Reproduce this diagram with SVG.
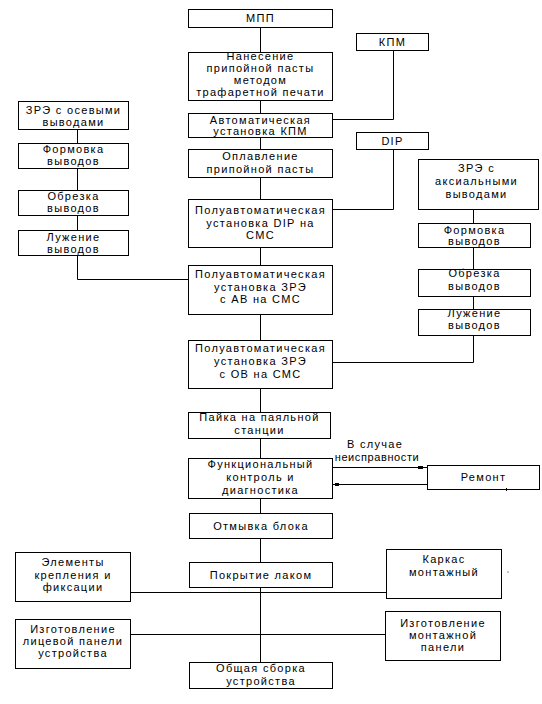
<svg xmlns="http://www.w3.org/2000/svg" width="542" height="704" viewBox="0 0 542 704">
<style>
rect.b{fill:#fff;stroke:#000;stroke-width:1}
.c line,.c polyline{stroke:#000;stroke-width:1;fill:none}
text{font-family:"Liberation Sans",Arial,sans-serif;font-size:11px;letter-spacing:1.3px;fill:#000;text-anchor:middle}
</style>
<rect width="542" height="704" fill="#fff"/>
<g class="c" id="connectors">
<line x1="260.5" y1="27" x2="260.5" y2="662"/>
<polyline points="393.5,50 393.5,119.5 332,119.5"/>
<polyline points="393.5,149 393.5,209.5 332,209.5"/>
<line x1="77.5" y1="129" x2="77.5" y2="143"/>
<line x1="77.5" y1="168" x2="77.5" y2="190"/>
<line x1="77.5" y1="215" x2="77.5" y2="230"/>
<polyline points="77.5,255 77.5,279.5 188,279.5"/>
<line x1="473.5" y1="209" x2="473.5" y2="223"/>
<line x1="473.5" y1="247" x2="473.5" y2="269"/>
<line x1="473.5" y1="296" x2="473.5" y2="309"/>
<polyline points="473.5,335 473.5,362.5 332,362.5"/>
<line x1="332" y1="467.5" x2="427" y2="467.5"/>
<line x1="332" y1="484.5" x2="427" y2="484.5"/>
<rect x="418" y="466" width="5" height="3" fill="#000" stroke="none"/>
<rect x="335" y="483" width="4" height="3" fill="#000" stroke="none"/>
<line x1="130" y1="592.5" x2="386" y2="592.5"/>
<line x1="130" y1="634.5" x2="385" y2="634.5"/>
</g>
<g id="n_mpp"><rect class="b" x="188.5" y="9.5" width="144" height="18"/><text x="260.5" y="22">МПП</text></g>
<g id="n_nanesenie"><rect class="b" x="188.5" y="52.5" width="144" height="48"/><text x="260.5" y="60">Нанесение</text><text x="260.5" y="72">припойной пасты</text><text x="260.5" y="84">методом</text><text x="260.5" y="96">трафаретной печати</text></g>
<g id="n_kpm"><rect class="b" x="356.5" y="33.5" width="72" height="17"/><text x="392.5" y="46">КПМ</text></g>
<g id="n_avto"><rect class="b" x="188.5" y="113.5" width="144" height="24"/><text x="260.5" y="124">Автоматическая</text><text x="260.5" y="135">установка КПМ</text></g>
<g id="n_dip"><rect class="b" x="356.5" y="132.5" width="72" height="17"/><text x="392.5" y="145">DIP</text></g>
<g id="n_oplav"><rect class="b" x="188.5" y="149.5" width="144" height="28"/><text x="260.5" y="160">Оплавление</text><text x="260.5" y="173">припойной пасты</text></g>
<g id="n_poldip"><rect class="b" x="188.5" y="199.5" width="144" height="48"/><text x="260.5" y="214">Полуавтоматическая</text><text x="260.5" y="227">установка DIP на</text><text x="260.5" y="239">СМС</text></g>
<g id="n_polab"><rect class="b" x="188.5" y="265.5" width="144" height="49"/><text x="260.5" y="278">Полуавтоматическая</text><text x="260.5" y="291">установка ЗРЭ</text><text x="260.5" y="303">с АВ на СМС</text></g>
<g id="n_polob"><rect class="b" x="188.5" y="340.5" width="144" height="48"/><text x="260.5" y="352">Полуавтоматическая</text><text x="260.5" y="365">установка ЗРЭ</text><text x="260.5" y="378">с ОВ на СМС</text></g>
<g id="n_l_zre"><rect class="b" x="18.5" y="101.5" width="110" height="28"/><text x="73.5" y="114">ЗРЭ с осевыми</text><text x="73.5" y="126">выводами</text></g>
<g id="n_l_form"><rect class="b" x="18.5" y="143.5" width="110" height="25"/><text x="73.5" y="153">Формовка</text><text x="73.5" y="165">выводов</text></g>
<g id="n_l_obr"><rect class="b" x="18.5" y="190.5" width="110" height="25"/><text x="73.5" y="200">Обрезка</text><text x="73.5" y="212">выводов</text></g>
<g id="n_l_luzh"><rect class="b" x="18.5" y="230.5" width="110" height="25"/><text x="73.5" y="241">Лужение</text><text x="73.5" y="253">выводов</text></g>
<g id="n_r_zre"><rect class="b" x="418.5" y="159.5" width="120" height="50"/><text x="476.5" y="172">ЗРЭ с</text><text x="476.5" y="185">аксиальными</text><text x="476.5" y="198">выводами</text></g>
<g id="n_r_form"><rect class="b" x="418.5" y="223.5" width="112" height="24"/><text x="474.5" y="234">Формовка</text><text x="474.5" y="245">выводов</text></g>
<g id="n_r_obr"><rect class="b" x="418.5" y="269.5" width="112" height="27"/><text x="474.5" y="277">Обрезка</text><text x="474.5" y="290">выводов</text></g>
<g id="n_r_luzh"><rect class="b" x="418.5" y="309.5" width="112" height="26"/><text x="474.5" y="317">Лужение</text><text x="474.5" y="329">выводов</text></g>
<g id="n_payka"><rect class="b" x="188.5" y="412.5" width="142" height="26"/><text x="259.5" y="421">Пайка на паяльной</text><text x="259.5" y="434">станции</text></g>
<g id="n_func"><rect class="b" x="188.5" y="458.5" width="144" height="40"/><text x="260.5" y="468">Функциональный</text><text x="260.5" y="481">контроль и</text><text x="260.5" y="494">диагностика</text></g>
<g id="lbl_neispr"><text x="375" y="448">В случае</text><text x="377" y="461" style="letter-spacing:0.6px">неисправности</text></g>
<g id="n_remont"><rect class="b" x="427.5" y="465.5" width="112" height="24"/><text x="483.5" y="481">Ремонт</text><line x1="506.5" y1="488" x2="506.5" y2="491" stroke="#000"/></g>
<g id="n_otmyvka"><rect class="b" x="189.5" y="513.5" width="143" height="25"/><text x="261" y="530">Отмывка блока</text></g>
<g id="n_pokrytie"><rect class="b" x="189.5" y="562.5" width="143" height="25"/><text x="261" y="579">Покрытие лаком</text></g>
<g id="n_elem"><rect class="b" x="15.5" y="552.5" width="115" height="49"/><text x="73" y="566">Элементы</text><text x="73" y="579">крепления и</text><text x="73" y="591">фиксации</text></g>
<g id="n_karkas"><rect class="b" x="386.5" y="549.5" width="115" height="49"/><text x="444" y="563">Каркас</text><text x="444" y="576">монтажный</text></g>
<circle cx="508" cy="572" r="0.6" fill="#000"/>
<g id="n_licev"><rect class="b" x="15.5" y="619.5" width="115" height="49"/><text x="73" y="633">Изготовление</text><text x="73" y="645">лицевой панели</text><text x="73" y="657">устройства</text></g>
<g id="n_montazh"><rect class="b" x="385.5" y="611.5" width="115" height="49"/><text x="443" y="627">Изготовление</text><text x="443" y="639">монтажной</text><text x="443" y="651">панели</text></g>
<g id="n_sborka"><rect class="b" x="189.5" y="662.5" width="143" height="26"/><text x="261" y="672">Общая сборка</text><text x="261" y="685">устройства</text></g>
</svg>
